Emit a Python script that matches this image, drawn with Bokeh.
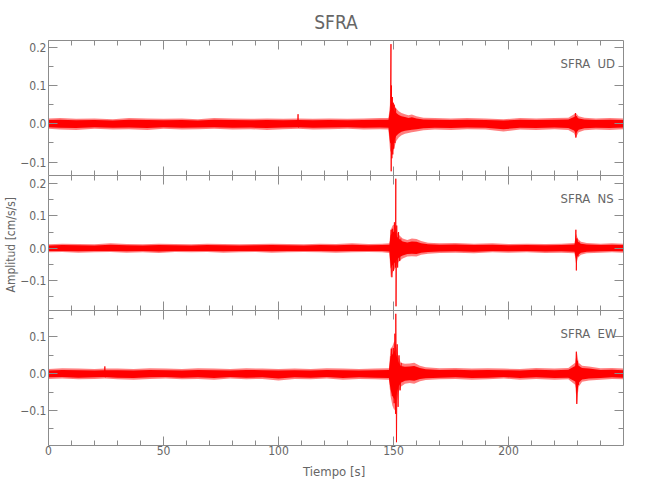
import math
from bokeh.plotting import figure
from bokeh.models import (LinearAxis, FixedTicker, Range1d, Label, Title,
                          CustomJSTickFormatter, CustomLabelingPolicy)
from bokeh.layouts import column
from bokeh.embed import file_html
from bokeh.resources import INLINE

# ---------------- data ----------------
station = "SFRA"
components = ["UD", "NS", "EW"]
x_limits = (0, 250)
ud_limits = (-0.135, 0.2175)
ns_limits = (-0.193, 0.225)
ew_limits = (-0.195, 0.172)

x_major = [0, 50, 100, 150, 200]
x_minor = [10, 20, 30, 40, 60, 70, 80, 90, 110, 120, 130, 140, 160, 170, 180, 190, 210, 220, 230, 240]
y_major = [-0.1, 0.0, 0.1, 0.2]
y_minor = [-0.15, -0.05, 0.05, 0.15]

# noise envelope (time, upper, lower) of each component
t_ud = [0, 5, 12, 20, 28, 35, 43, 50, 58, 65,
        72, 80, 88, 95, 102, 108.5, 115, 122, 130, 137,
        144, 147.8, 148.5, 149.3, 150.2, 151.2, 152.3, 153.5, 155, 156.5,
        158, 160, 163, 168, 175, 182, 190, 197.8, 205, 212,
        220, 226, 228.5, 229.3, 230.5, 233, 238, 244, 250]
hi_ud = [0.014, 0.015, 0.013, 0.014, 0.012, 0.015, 0.014, 0.013, 0.014, 0.012,
         0.015, 0.014, 0.013, 0.014, 0.013, 0.014, 0.013, 0.014, 0.013, 0.014,
         0.015, 0.015, 0.05, 0.06, 0.05, 0.04, 0.033, 0.028, 0.025, 0.022,
         0.024, 0.02, 0.016, 0.015, 0.014, 0.015, 0.014, 0.012, 0.015, 0.014,
         0.015, 0.016, 0.025, 0.028, 0.02, 0.016, 0.014, 0.015, 0.014]
lo_ud = [-0.013, -0.015, -0.016, -0.013, -0.015, -0.014, -0.016, -0.013, -0.015, -0.014,
         -0.013, -0.015, -0.014, -0.016, -0.014, -0.013, -0.015, -0.014, -0.013, -0.015,
         -0.014, -0.015, -0.07, -0.078, -0.065, -0.045, -0.036, -0.03, -0.026, -0.024,
         -0.022, -0.02, -0.017, -0.015, -0.016, -0.014, -0.015, -0.02, -0.015, -0.016,
         -0.014, -0.016, -0.025, -0.036, -0.022, -0.017, -0.015, -0.016, -0.014]

t_ns = [0, 6, 13, 20, 27, 34, 41, 48, 55, 62,
        69, 76, 83, 90, 97, 104, 111, 118, 125, 132,
        139, 145, 148.2, 148.8, 149.6, 150.5, 151.5, 152.5, 154, 156,
        158, 160, 162, 165, 170, 177, 185, 193, 200, 208,
        216, 223, 228.7, 229.4, 230.2, 231.5, 234, 240, 245, 250]
hi_ns = [0.012, 0.014, 0.013, 0.012, 0.015, 0.013, 0.012, 0.014, 0.013, 0.012,
         0.014, 0.013, 0.012, 0.013, 0.014, 0.013, 0.012, 0.014, 0.013, 0.015,
         0.013, 0.014, 0.015, 0.057, 0.07, 0.075, 0.05, 0.04, 0.03, 0.025,
         0.03, 0.028, 0.022, 0.017, 0.015, 0.016, 0.014, 0.015, 0.013, 0.014,
         0.013, 0.014, 0.016, 0.045, 0.028, 0.02, 0.016, 0.014, 0.015, 0.014]
lo_ns = [-0.013, -0.012, -0.014, -0.013, -0.012, -0.014, -0.013, -0.015, -0.012, -0.013,
         -0.012, -0.014, -0.013, -0.012, -0.014, -0.013, -0.012, -0.013, -0.014, -0.013,
         -0.012, -0.013, -0.015, -0.09, -0.075, -0.065, -0.05, -0.04, -0.032, -0.026,
         -0.025, -0.026, -0.02, -0.017, -0.015, -0.014, -0.016, -0.013, -0.014, -0.013,
         -0.015, -0.014, -0.016, -0.05, -0.03, -0.02, -0.016, -0.014, -0.013, -0.014]

t_ew = [0, 6, 13, 20, 24.5, 30, 37, 44, 51, 58,
        65, 72, 79, 86, 93, 100, 107, 114, 121, 128,
        135, 142, 148, 148.7, 149.5, 150.4, 151.3, 152.2, 153.2, 155,
        157, 159, 161.5, 164, 170, 177, 184, 191, 198, 205,
        212, 220, 226, 229, 229.7, 230.5, 232, 235, 240, 245, 250]
hi_ew = [0.013, 0.015, 0.014, 0.013, 0.014, 0.014, 0.013, 0.015, 0.014, 0.013,
         0.015, 0.014, 0.013, 0.015, 0.014, 0.013, 0.014, 0.013, 0.015, 0.014,
         0.013, 0.014, 0.015, 0.068, 0.075, 0.09, 0.07, 0.045, 0.03, 0.027,
         0.028, 0.03, 0.022, 0.018, 0.015, 0.016, 0.014, 0.015, 0.014, 0.013,
         0.016, 0.014, 0.016, 0.03, 0.06, 0.03, 0.022, 0.02, 0.015, 0.016, 0.014]
lo_ew = [-0.014, -0.013, -0.015, -0.014, -0.013, -0.015, -0.016, -0.014, -0.013, -0.015,
         -0.014, -0.016, -0.013, -0.015, -0.014, -0.018, -0.014, -0.015, -0.013, -0.016,
         -0.014, -0.015, -0.016, -0.06, -0.086, -0.1, -0.08, -0.05, -0.035, -0.027,
         -0.025, -0.027, -0.02, -0.017, -0.015, -0.014, -0.016, -0.015, -0.013, -0.016,
         -0.014, -0.016, -0.015, -0.03, -0.082, -0.035, -0.022, -0.018, -0.016, -0.014, -0.015]

# strongest oscillations (peak-to-peak swings) of each component
spk_t_ud = [[108.3, 108.5, 108.7],
            [148.6, 148.9, 149.0, 149.1, 149.3, 149.5, 149.7, 149.9, 150.1, 150.3, 150.6, 150.9, 151.3],
            [228.8, 229.1, 229.3, 229.6, 230.0]]
spk_v_ud = [[0.0, 0.025, -0.01],
            [0.0, 0.208, -0.124, 0.1, -0.09, 0.07, -0.08, 0.055, -0.065, 0.05, -0.05, 0.04, -0.03],
            [0.0, 0.028, -0.036, 0.02, -0.015]]
spk_t_ns = [[148.7, 149.0, 149.3, 149.6, 150.0, 150.4, 150.8, 151.0, 151.1, 151.4, 151.8, 152.2, 152.7, 153.2],
            [229.0, 229.3, 229.5, 229.8, 230.2, 230.7]]
spk_v_ns = [[0.0, 0.057, -0.09, 0.06, -0.07, 0.08, -0.06, 0.215, -0.18, 0.07, -0.06, 0.05, -0.04, 0.03],
            [0.0, 0.057, -0.069, 0.03, -0.025, 0.02]]
spk_t_ew = [[24.3, 24.5, 24.7],
            [148.8, 149.1, 149.5, 149.9, 150.3, 150.6, 150.9, 151.0, 151.3, 151.6, 152.0, 152.4, 152.9, 153.4],
            [229.2, 229.5, 229.7, 230.0, 230.4, 230.9]]
spk_v_ew = [[0.0, 0.02, -0.01],
            [0.0, 0.068, -0.06, 0.07, -0.08, 0.109, -0.109, 0.163, -0.186, 0.08, -0.09, 0.05, -0.045, 0.03],
            [0.0, 0.06, -0.082, 0.035, -0.03, 0.02]]

# ---------------- styling ----------------
FONT = "DejaVu Sans Condensed"
TXT = "#666666"
AXC = "#8c8c8c"
RED = "#ff0000"
FW, FH = 575, 135
LEFT = 48

yfmt_code = "return tick.toFixed(1).replace('-', '\u2212');"


def style_axis(ax, labels):
    ax.axis_line_color = AXC
    ax.major_tick_line_color = AXC
    ax.minor_tick_line_color = AXC
    ax.major_tick_in = 9
    ax.major_tick_out = 0
    ax.minor_tick_in = 5
    ax.minor_tick_out = 0
    ax.major_label_text_font = FONT
    ax.major_label_text_color = TXT
    ax.major_label_text_font_size = "12px"
    ax.major_label_standoff = 2
    if not labels:
        ax.major_label_text_font_size = "0px"
        ax.major_label_standoff = 0
        ax.major_label_policy = CustomLabelingPolicy(code="return new Set()")


def panel(comp, limits, t, hi, lo, spk_t, spk_v, top_border, bottom_border, xr, x_labels):
    p = figure(frame_width=FW, frame_height=FH, x_range=xr,
               y_range=Range1d(*limits), output_backend="svg", toolbar_location=None,
               x_axis_location=None, y_axis_location=None,
               min_border_left=LEFT, min_border_right=10,
               min_border_top=top_border, min_border_bottom=bottom_border)
    p.outline_line_color = None
    p.background_fill_color = "white"
    p.border_fill_color = "white"
    p.grid.visible = False

    xt = FixedTicker(ticks=x_major, minor_ticks=x_minor)
    yt = FixedTicker(ticks=y_major, minor_ticks=y_minor)
    yf = CustomJSTickFormatter(code=yfmt_code)

    for loc, lab in (("below", x_labels), ("above", False)):
        ax = LinearAxis(ticker=xt)
        style_axis(ax, lab)
        p.add_layout(ax, loc)
    for loc, lab in (("left", True), ("right", False)):
        ax = LinearAxis(ticker=yt, formatter=yf)
        style_axis(ax, lab)
        p.add_layout(ax, loc)

    # noise band: pale fringe and solid core
    p.varea(x=t, y1=lo, y2=hi, fill_color=RED, fill_alpha=0.5)
    p.varea(x=t, y1=[v * 0.7 for v in lo], y2=[v * 0.7 for v in hi], fill_color=RED, fill_alpha=1.0)
    p.multi_line(xs=spk_t, ys=spk_v, line_color=RED, line_width=1, line_alpha=0.85)

    p.add_layout(Label(x=512, y=FH - 23, x_units="screen", y_units="screen", text=station,
                       text_font=FONT, text_font_size="13px", text_color=TXT,
                       text_baseline="middle", text_align="left"))
    p.add_layout(Label(x=549, y=FH - 23, x_units="screen", y_units="screen", text=comp,
                       text_font=FONT, text_font_size="13px", text_color=TXT,
                       text_baseline="middle", text_align="left"))
    return p


xr = Range1d(*x_limits)
p1 = panel(components[0], ud_limits, t_ud, hi_ud, lo_ud, spk_t_ud, spk_v_ud, 40, 0, xr, False)
p2 = panel(components[1], ns_limits, t_ns, hi_ns, lo_ns, spk_t_ns, spk_v_ns, 0, 0, xr, False)
p3 = panel(components[2], ew_limits, t_ew, hi_ew, lo_ew, spk_t_ew, spk_v_ew, 0, 40, xr, True)

p1.title.text = station
p1.title.align = "center"
p1.title.text_font = FONT
p1.title.text_font_size = "19px"
p1.title.text_font_style = "normal"
p1.title.text_color = TXT
p1.title.standoff = 15

p2.add_layout(Title(text="Amplitud  [cm/s/s]", align="center", text_font=FONT,
                    text_font_size="12px", text_font_style="normal", text_color=TXT,
                    standoff=0), "left")

xlab = p3.below[0]
xlab.major_label_standoff = 0
xlab.axis_label = "Tiempo  [s]"
xlab.axis_label_text_font = FONT
xlab.axis_label_text_font_size = "13px"
xlab.axis_label_text_font_style = "normal"
xlab.axis_label_text_color = TXT
xlab.axis_label_standoff = 6

layout = column(p1, p2, p3, spacing=0)
open("out.html", "w").write(file_html(layout, INLINE))
